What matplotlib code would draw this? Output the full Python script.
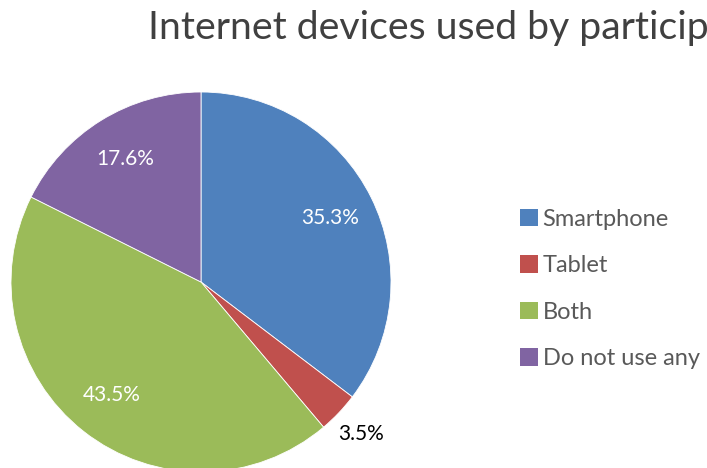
import matplotlib
matplotlib.use("Agg")
import matplotlib.pyplot as plt
from matplotlib.patches import Patch
import numpy as np

title = "Internet devices used by participants"
categories = ["Smartphone", "Tablet", "Both", "Do not use any"]
values = [35.3, 3.5, 43.5, 17.6]
colors = ["#4F81BD", "#C0504D", "#9BBB59", "#8064A2"]

plt.rcParams['font.family'] = ['Lato', 'DejaVu Sans']

W, H = 707, 468
fig = plt.figure(figsize=(W / 100, H / 100), dpi=100)

# pie axes: center (201, 282) px, radius 190 px
cx, cy, r = 201, 282, 190
ax = fig.add_axes([(cx - r) / W, (H - cy - r) / H, 2 * r / W, 2 * r / H])
wedges, texts, autotexts = ax.pie(
    values, colors=colors, startangle=90, counterclock=False,
    autopct=lambda p: f"{p:.1f}%", pctdistance=0.76,
    wedgeprops=dict(edgecolor="white", linewidth=0.6),
    textprops=dict(color="white", fontsize=15),
    radius=1.0,
)
ax.set_xlim(-1, 1)
ax.set_ylim(-1, 1)
ax.set_aspect("equal")
ax.axis("off")

# small slice label outside in black
w = wedges[1]
ang = np.deg2rad((w.theta1 + w.theta2) / 2)
autotexts[1].set_position((1.16 * np.cos(ang), 1.16 * np.sin(ang)))
autotexts[1].set_color("black")

fig.text(148 / W, 1 - 28 / H, title, fontsize=28.3, color="#404040",
         ha="left", va="center")

handles = [Patch(facecolor=c, edgecolor="none") for c in colors]
leg = fig.legend(handles, categories, loc="center left",
                 bbox_to_anchor=(499 / W, 1 - 289 / H), frameon=False,
                 fontsize=17, labelcolor="#595959", handlelength=0.75,
                 handleheight=0.75, handletextpad=0.2, labelspacing=1.08)

fig.savefig("out.png", dpi=100)
